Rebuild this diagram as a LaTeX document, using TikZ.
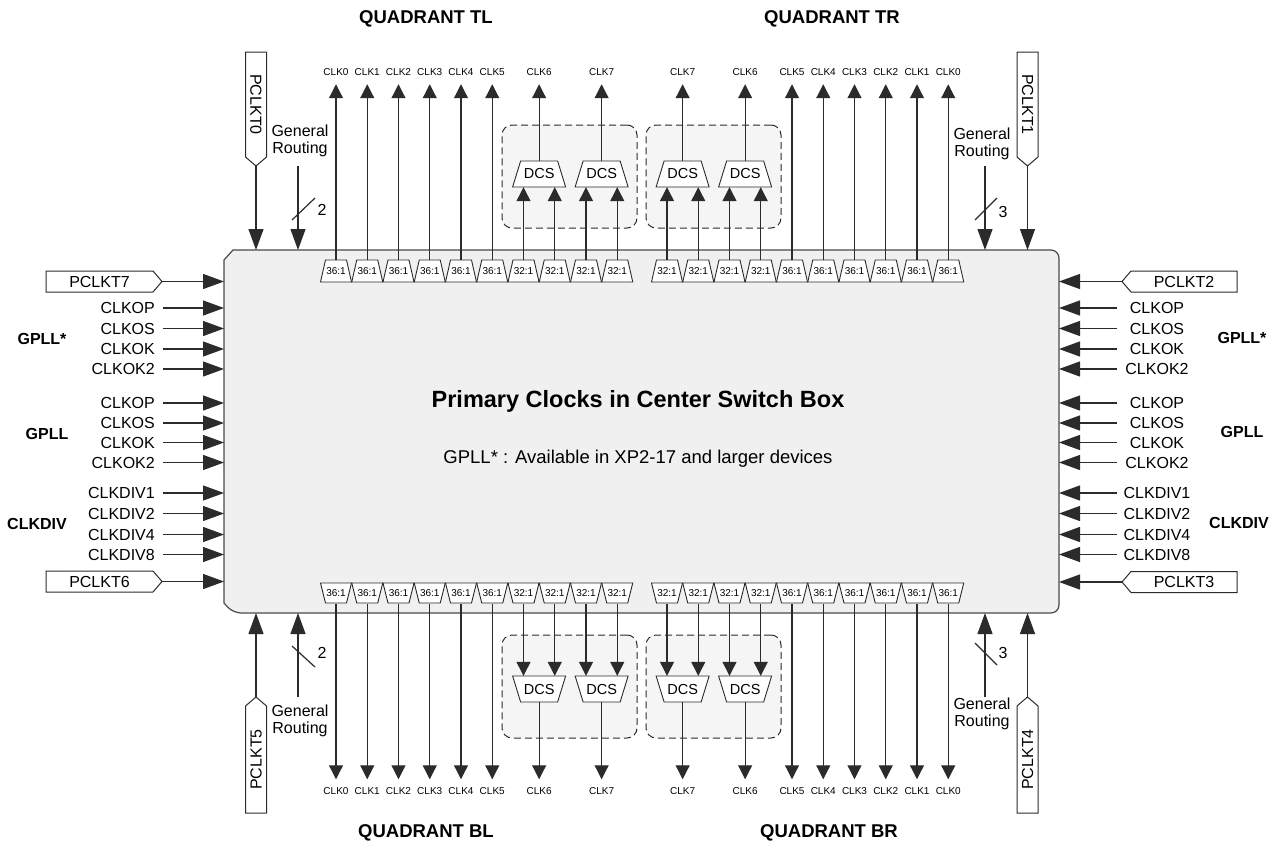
\documentclass[tikz,border=0pt]{standalone}
\usepackage{fontspec}
\setmainfont{Liberation Sans}
\usetikzlibrary{arrows.meta}

\definecolor{linegray}{HTML}{2B2B2B}
\definecolor{boxedge}{HTML}{4A4A4A}
\definecolor{boxgray}{HTML}{F0F0F0}
\definecolor{zonegray}{HTML}{F5F5F5}

\newcommand{\sigfont}{\fontsize{16}{17}\selectfont}
\newcommand{\clkfont}{\fontsize{10}{11}\selectfont}

\tikzset{
  % Input signal labels
  sigL/.style={font=\sigfont, anchor=east, inner xsep=8pt, inner ysep=0pt},
  sigR/.style={font=\sigfont, text width=80pt, align=center, inner xsep=0pt, inner ysep=0pt},
  grplabel/.style={font=\bfseries\sigfont},
  routing/.style={font=\sigfont, align=center, inner sep=0pt},
  quadrant/.style={font=\bfseries\fontsize{18.5}{20}\selectfont},
  clkname/.style={font=\clkfont, inner xsep=0pt, inner ysep=8pt},
  % Muxes and DCS blocks
  shapeline/.style={draw=linegray, fill=white, line width=0.9pt},
  muxbox/.style={font=\clkfont, inner sep=0pt, minimum width=31pt, minimum height=22pt},
  dcsbox/.style={font=\fontsize{14.5}{15}\selectfont, inner sep=0pt, minimum width=53pt, minimum height=26pt},
  dcszone/.style={
    draw=linegray, dash pattern=on 7pt off 4pt, rounded corners=10pt,
    fill=zonegray, line width=1pt,
    minimum width=135pt, minimum height=103pt
  },
  % Clock pins
  pintext/.style={font=\sigfont, inner sep=0pt},
  % Arrows
  inbig/.style={draw=linegray, line width=1.2pt, -{Triangle[length=21pt,width=15pt]}},
  outsm/.style={draw=linegray, line width=1.2pt, -{Triangle[length=14pt,width=14pt]}},
  wire/.style={draw=linegray, line width=1.2pt},
}

% mux with its own clock output
\newcommand{\clkup}[3]{%
  \filldraw[shapeline] (#2-15.5,282) -- (#2-10.5,260) -- (#2+10.5,260) -- (#2+15.5,282) -- cycle;
  \node[muxbox] (#1) at (#2,271) {36:1};
  \node[clkname] (#1o) at (#2,72.5) {#3};
  \draw[outsm] (#1) -- (#1o);
}
\newcommand{\clkdn}[3]{%
  \filldraw[shapeline] (#2-15.5,583) -- (#2-10.5,603) -- (#2+10.5,603) -- (#2+15.5,583) -- cycle;
  \node[muxbox] (#1) at (#2,593) {36:1};
  \node[clkname] (#1o) at (#2,791) {#3};
  \draw[outsm] (#1) -- (#1o);
}
% two muxes feeding one DCS
\newcommand{\dcsup}[3]{%
  \filldraw[shapeline] (#2-31.125,282) -- (#2-26.125,260) -- (#2-5.125,260) -- (#2-0.125,282) -- cycle;
  \filldraw[shapeline] (#2+0.125,282) -- (#2+5.125,260) -- (#2+26.125,260) -- (#2+31.125,282) -- cycle;
  \filldraw[shapeline] (#2-26.5,187) -- (#2-18.5,161) -- (#2+18.5,161) -- (#2+26.5,187) -- cycle;
  \node[muxbox] (#1a) at (#2-15.625,271) {32:1};
  \node[muxbox] (#1b) at (#2+15.625,271) {32:1};
  \node[dcsbox] (#1) at (#2,174) {DCS};
  \node[clkname] (#1o) at (#2,72.5) {#3};
  \draw[outsm] (#1a) -- (#1a |- #1.south);
  \draw[outsm] (#1b) -- (#1b |- #1.south);
  \draw[outsm] (#1) -- (#1o);
}
\newcommand{\dcsdn}[3]{%
  \filldraw[shapeline] (#2-31.125,583) -- (#2-26.125,603) -- (#2-5.125,603) -- (#2-0.125,583) -- cycle;
  \filldraw[shapeline] (#2+0.125,583) -- (#2+5.125,603) -- (#2+26.125,603) -- (#2+31.125,583) -- cycle;
  \filldraw[shapeline] (#2-26.5,676) -- (#2-18.5,702) -- (#2+18.5,702) -- (#2+26.5,676) -- cycle;
  \node[muxbox] (#1a) at (#2-15.625,593) {32:1};
  \node[muxbox] (#1b) at (#2+15.625,593) {32:1};
  \node[dcsbox] (#1) at (#2,689) {DCS};
  \node[clkname] (#1o) at (#2,791) {#3};
  \draw[outsm] (#1a) -- (#1a |- #1.north);
  \draw[outsm] (#1b) -- (#1b |- #1.north);
  \draw[outsm] (#1) -- (#1o);
}
% side inputs
\newcommand{\inleft}[3]{%
  \node[sigL] (#1) at (163,#2) {#3};
  \draw[inbig] (#1) -- (#1 -| csb.west);
}
\newcommand{\inright}[3]{%
  \node[sigR] (#1) at (1157,#2) {#3};
  \draw[inbig] (#1) -- (#1 -| csb.east);
}
% clock pins: name, position, text
\newcommand{\pindown}[3]{%
  \filldraw[shapeline, line width=1pt] (#2,166) -- ++(-10.5,-9) -- ++(0,-105) -- ++(21,0) -- ++(0,105) -- cycle;
  \node[pintext, rotate=-90] (#1) at (#2,104.5) {#3};
  \coordinate (#1tip) at (#2,166);
}
\newcommand{\pinup}[3]{%
  \filldraw[shapeline, line width=1pt] (#2,697) -- ++(-10.5,9) -- ++(0,107) -- ++(21,0) -- ++(0,-107) -- cycle;
  \node[pintext, rotate=90] (#1) at (#2,759.5) {#3};
  \coordinate (#1tip) at (#2,697);
}
\newcommand{\pinright}[3]{%
  \filldraw[shapeline, line width=1pt] (162,#2) -- ++(-9,-10.5) -- ++(-107,0) -- ++(0,21) -- ++(107,0) -- cycle;
  \node[pintext] (#1) at (99.5,#2) {#3};
  \coordinate (#1tip) at (162,#2);
}
\newcommand{\pinleft}[3]{%
  \filldraw[shapeline, line width=1pt] (1122,#2) -- ++(9,-10.5) -- ++(106,0) -- ++(0,21) -- ++(-106,0) -- cycle;
  \node[pintext] (#1) at (1184,#2) {#3};
  \coordinate (#1tip) at (1122,#2);
}

\begin{document}
\begin{tikzpicture}[x=1pt, y=-1pt]
  \useasboundingbox (0,0) rectangle (1283,857);

  %% -- Center switch box --
  \node[minimum width=835pt, minimum height=363pt, inner sep=0pt, outer sep=0pt] (csb) at (641.5,431.5) {};
  \draw[draw=boxedge, fill=boxgray, line width=1.2pt]
    ([yshift=10pt]csb.south west) -- ([yshift=-10pt]csb.north west)
    -- ([xshift=9pt]csb.north west) [rounded corners=8pt] -- (csb.north east)
    -- (csb.south east) -- ([xshift=9pt]csb.south west) [sharp corners] -- cycle;

  \node[font=\bfseries\fontsize{23.5}{25}\selectfont] (title) at (638,401) {Primary Clocks in Center Switch Box};
  \node[font=\fontsize{18.5}{20}\selectfont] (note) at (638,459) {GPLL* : Available in XP2-17 and larger devices};

  %% -- Quadrant titles --
  \node[quadrant] (qtl) at (426,19) {QUADRANT TL};
  \node[quadrant] (qtr) at (832,19) {QUADRANT TR};
  \node[quadrant] (qbl) at (426,833) {QUADRANT BL};
  \node[quadrant] (qbr) at (829,833) {QUADRANT BR};

  %% -- DCS zones --
  \node[dcszone] (ztl) at (569.5,176.5) {};
  \node[dcszone] (ztr) at (713.5,176.5) {};
  \node[dcszone] (zbl) at (569.5,686.5) {};
  \node[dcszone] (zbr) at (713.5,686.5) {};

  %% -- Top outputs --
  \clkup{mtl0}{336}{CLK0}
  \clkup{mtl1}{367.25}{CLK1}
  \clkup{mtl2}{398.5}{CLK2}
  \clkup{mtl3}{429.75}{CLK3}
  \clkup{mtl4}{461}{CLK4}
  \clkup{mtl5}{492.25}{CLK5}
  \dcsup{dtl6}{539.125}{CLK6}
  \dcsup{dtl7}{601.625}{CLK7}
  \dcsup{dtr7}{682.625}{CLK7}
  \dcsup{dtr6}{745.125}{CLK6}
  \clkup{mtr5}{792}{CLK5}
  \clkup{mtr4}{823.25}{CLK4}
  \clkup{mtr3}{854.5}{CLK3}
  \clkup{mtr2}{885.75}{CLK2}
  \clkup{mtr1}{917}{CLK1}
  \clkup{mtr0}{948.25}{CLK0}

  %% -- Bottom outputs --
  \clkdn{mbl0}{336}{CLK0}
  \clkdn{mbl1}{367.25}{CLK1}
  \clkdn{mbl2}{398.5}{CLK2}
  \clkdn{mbl3}{429.75}{CLK3}
  \clkdn{mbl4}{461}{CLK4}
  \clkdn{mbl5}{492.25}{CLK5}
  \dcsdn{dbl6}{539.125}{CLK6}
  \dcsdn{dbl7}{601.625}{CLK7}
  \dcsdn{dbr7}{682.625}{CLK7}
  \dcsdn{dbr6}{745.125}{CLK6}
  \clkdn{mbr5}{792}{CLK5}
  \clkdn{mbr4}{823.25}{CLK4}
  \clkdn{mbr3}{854.5}{CLK3}
  \clkdn{mbr2}{885.75}{CLK2}
  \clkdn{mbr1}{917}{CLK1}
  \clkdn{mbr0}{948.25}{CLK0}

  %% -- Clock pins --
  \pindown{pclkt0}{256}{PCLKT0}
  \pindown{pclkt1}{1027.5}{PCLKT1}
  \pinup{pclkt5}{256}{PCLKT5}
  \pinup{pclkt4}{1027.5}{PCLKT4}
  \pinright{pclkt7}{281.5}{PCLKT7}
  \pinright{pclkt6}{581.5}{PCLKT6}
  \pinleft{pclkt2}{281.5}{PCLKT2}
  \pinleft{pclkt3}{582}{PCLKT3}

  \draw[inbig] (pclkt0tip) -- (pclkt0tip |- csb.north);
  \draw[inbig] (pclkt1tip) -- (pclkt1tip |- csb.north);
  \draw[inbig] (pclkt5tip) -- (pclkt5tip |- csb.south);
  \draw[inbig] (pclkt4tip) -- (pclkt4tip |- csb.south);
  \draw[inbig] (pclkt7tip) -- (pclkt7tip -| csb.west);
  \draw[inbig] (pclkt6tip) -- (pclkt6tip -| csb.west);
  \draw[inbig] (pclkt2tip) -- (pclkt2tip -| csb.east);
  \draw[inbig] (pclkt3tip) -- (pclkt3tip -| csb.east);

  %% -- General routing --
  \node[routing] (grtl) at (300,141) {General\\Routing};
  \node[routing] (grtr) at (982,144) {General\\Routing};
  \node[routing] (grbl) at (300,720.5) {General\\Routing};
  \node[routing] (grbr) at (982,714) {General\\Routing};
  \coordinate (grtlIn) at (298,166);
  \coordinate (grtrIn) at (985,166);
  \coordinate (grblIn) at (298,697);
  \coordinate (grbrIn) at (985,697);
  \draw[inbig] (grtlIn) -- (grtlIn |- csb.north);
  \draw[inbig] (grtrIn) -- (grtrIn |- csb.north);
  \draw[inbig] (grblIn) -- (grblIn |- csb.south);
  \draw[inbig] (grbrIn) -- (grbrIn |- csb.south);
  % bus width marks
  \draw[wire] (grtlIn) ++(-6,54) -- ++(23,-22);
  \draw[wire] (grtrIn) ++(-10,54) -- ++(22,-22);
  \draw[wire] (grblIn) ++(-6,-51) -- ++(23,21);
  \draw[wire] (grbrIn) ++(-10,-54) -- ++(22,22);
  \path (grtlIn) ++(24,44) node[font=\sigfont] (btl) {2};
  \path (grtrIn) ++(18,46) node[font=\sigfont] (btr) {3};
  \path (grblIn) ++(24,-44) node[font=\sigfont] (bbl) {2};
  \path (grbrIn) ++(18,-44) node[font=\sigfont] (bbr) {3};

  %% -- Left inputs --
  \node[grplabel] (gpllsL) at (42,339) {GPLL*};
  \node[grplabel] (gpllL) at (47,434) {GPLL};
  \node[grplabel] (clkdivL) at (37,524) {CLKDIV};
  \inleft{lgs1}{308}{CLKOP}
  \inleft{lgs2}{328.5}{CLKOS}
  \inleft{lgs3}{349}{CLKOK}
  \inleft{lgs4}{369}{CLKOK2}
  \inleft{lg1}{403}{CLKOP}
  \inleft{lg2}{423}{CLKOS}
  \inleft{lg3}{442.5}{CLKOK}
  \inleft{lg4}{462.5}{CLKOK2}
  \inleft{ld1}{493}{CLKDIV1}
  \inleft{ld2}{513.5}{CLKDIV2}
  \inleft{ld4}{534.5}{CLKDIV4}
  \inleft{ld8}{554.5}{CLKDIV8}

  %% -- Right inputs --
  \node[grplabel] (gpllsR) at (1242,338) {GPLL*};
  \node[grplabel] (gpllR) at (1242,432) {GPLL};
  \node[grplabel] (clkdivR) at (1239,523) {CLKDIV};
  \inright{rgs1}{308}{CLKOP}
  \inright{rgs2}{328.5}{CLKOS}
  \inright{rgs3}{349}{CLKOK}
  \inright{rgs4}{369}{CLKOK2}
  \inright{rg1}{403}{CLKOP}
  \inright{rg2}{423}{CLKOS}
  \inright{rg3}{442.5}{CLKOK}
  \inright{rg4}{462.5}{CLKOK2}
  \inright{rd1}{493}{CLKDIV1}
  \inright{rd2}{513.5}{CLKDIV2}
  \inright{rd4}{534.5}{CLKDIV4}
  \inright{rd8}{554.5}{CLKDIV8}

\end{tikzpicture}
\end{document}
